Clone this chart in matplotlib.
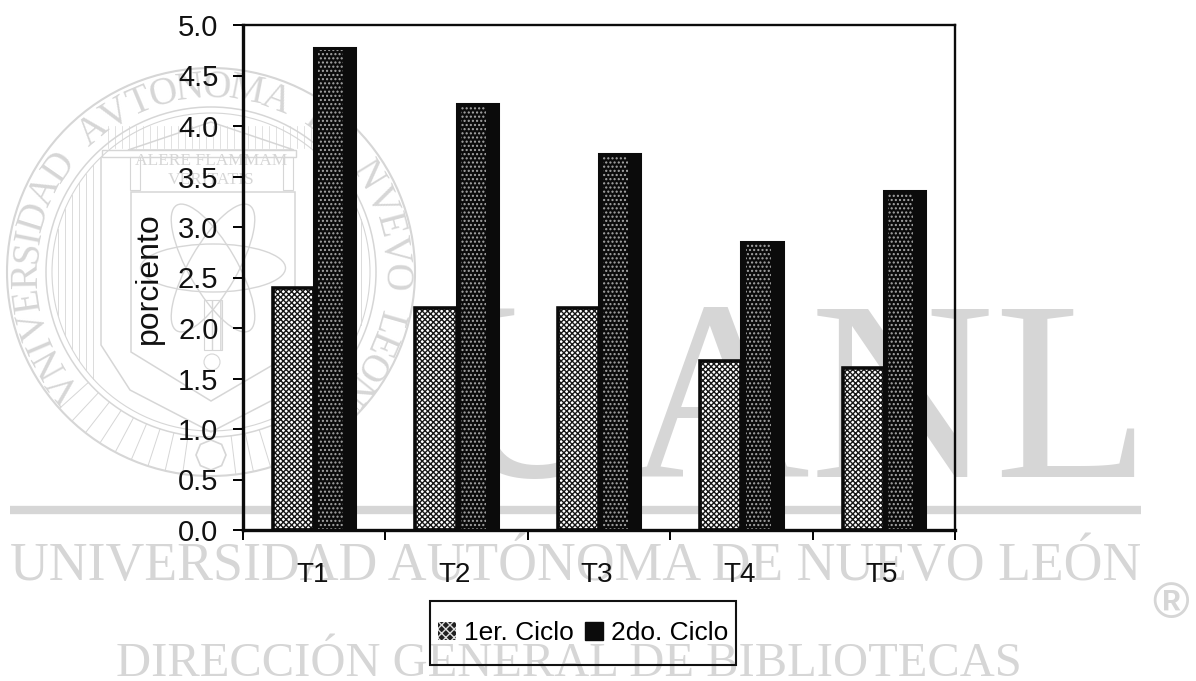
import numpy as np
import matplotlib
matplotlib.use("Agg")
import matplotlib.pyplot as plt
from matplotlib.patches import Circle, Ellipse, Rectangle, Polygon, RegularPolygon
from matplotlib.lines import Line2D
from matplotlib.textpath import TextPath
from matplotlib.font_manager import FontProperties

categories = ["T1", "T2", "T3", "T4", "T5"]
ciclo1 = [2.4, 2.2, 2.2, 1.67, 1.6]
ciclo2 = [4.77, 4.22, 3.72, 2.85, 3.36]
series_names = ["1er. Ciclo", "2do. Ciclo"]
yticks = [0.0, 0.5, 1.0, 1.5, 2.0, 2.5, 3.0, 3.5, 4.0, 4.5, 5.0]
ylabel = "porciento"

W, H = 1196, 681
SANS = "Liberation Sans"
SERIF = "Liberation Serif"
WM = "#d6d6d6"
INK = "#0b0b0b"
plt.rcParams["font.family"] = SANS
plt.rcParams["hatch.linewidth"] = 1.0

fig = plt.figure(figsize=(W / 100, H / 100), dpi=100, facecolor="white")

# ---- watermark, in pixel coordinates
bg = fig.add_axes([0, 0, 1, 1], zorder=0)
bg.set_xlim(0, W)
bg.set_ylim(H, 0)
bg.axis("off")

bg.text(1151, 477, "UANL", family=SERIF, fontsize=184, color=WM, ha="right", va="baseline")
bg.add_line(Line2D([10, 1141], [510, 510], color=WM, lw=6, solid_capstyle="butt"))
bg.text(576, 580, "UNIVERSIDAD AUTÓNOMA DE NUEVO LEÓN", family=SERIF, fontsize=38.7,
        color=WM, ha="center", va="baseline")
bg.text(569, 676, "DIRECCIÓN GENERAL DE BIBLIOTECAS", family=SERIF, fontsize=34.9,
        color=WM, ha="center", va="baseline")
bg.text(1171, 605, "®", family=SANS, weight="bold", fontsize=36, color=WM, ha="center", va="center")

cx, cy = 211, 272
for r, lw in [(204, 1.5), (165, 1.1), (159, 0.8)]:
    bg.add_patch(Circle((cx, cy), r, fill=False, ec=WM, lw=lw))

ring = "VNIVERSIDAD AVTONOMA DE NVEVO LEON"
fp = FontProperties(family=SERIF)
widths = np.array([TextPath((0, 0), ch, size=10, prop=fp).get_extents().width if ch != " " else 5.0
                   for ch in ring]) + 1.0
centers = np.cumsum(widths) - widths / 2
angles = 218 - 257 * (centers - centers[0]) / (centers[-1] - centers[0])
for ch, a in zip(ring, angles):
    t = np.deg2rad(a)
    bg.text(cx + 184 * np.cos(t), cy - 184 * np.sin(t), ch, family=SERIF, fontsize=28,
            color=WM, ha="center", va="center", rotation=a - 90, rotation_mode="anchor")

# radial strokes at the foot of the seal
for a in np.arange(222, 320, 5.0):
    if abs(a - 270) < 5:
        continue
    t = np.deg2rad(a)
    bg.add_line(Line2D([cx + 165 * np.cos(t), cx + 203 * np.cos(t)],
                       [cy - 165 * np.sin(t), cy - 203 * np.sin(t)], color=WM, lw=0.7))
bg.add_patch(RegularPolygon((211, 455), 8, radius=15, fill=False, ec=WM, lw=1.2))

# temple and shield
bg.add_patch(Polygon([[128, 150], [211, 122], [294, 150]], closed=True, fill=False, ec=WM, lw=1.1))
bg.add_patch(Rectangle((102, 150), 194, 7, fill=False, ec=WM, lw=1))
bg.add_patch(Polygon([[131, 192], [131, 352], [211, 401], [295, 352], [295, 192]],
                     closed=True, fill=False, ec=WM, lw=1.1))
bg.add_patch(Polygon([[101, 157], [101, 345], [130, 390], [211, 432], [292, 390], [321, 345], [321, 157]],
                     closed=False, fill=False, ec=WM, lw=1.1))
for x in (135, 288):
    bg.add_patch(Rectangle((x - 5, 157), 10, 33, fill=False, ec=WM, lw=0.8))
for x in list(np.arange(58, 100, 7)) + list(np.arange(326, 366, 7)):
    dy = np.sqrt(159 ** 2 - (x - cx) ** 2)
    bg.add_line(Line2D([x, x], [cy - dy, cy + dy], color=WM, lw=0.6))
for x in np.arange(108, 316, 7):
    bg.add_line(Line2D([x, x], [126, 148], color=WM, lw=0.5))
bg.text(211, 161, "ALERE FLAMMAM", family=SERIF, fontsize=12.5, color=WM, ha="center", va="center")
bg.text(211, 180, "VERITATIS", family=SERIF, fontsize=12.5, color=WM, ha="center", va="center")
for ang in (0, 60, -60):
    bg.add_patch(Ellipse((213, 268), 145, 48, angle=ang, fill=False, ec=WM, lw=1))
bg.add_patch(Rectangle((204, 300), 18, 50, fill=False, ec=WM, hatch="||", lw=0.8))
bg.add_patch(Circle((212, 362), 8, fill=False, ec=WM, lw=0.8))

# ---- chart
ax = fig.add_axes([243 / W, 1 - 530 / H, (955 - 243) / W, (530 - 25) / H], zorder=2)
ax.patch.set_alpha(0)
x = np.arange(len(categories))
bw = 0.29
ax.bar(x - bw / 2, ciclo1, bw, facecolor="white", edgecolor="#161616", hatch="xxxxxx", lw=0)
ax.bar(x + bw / 2, ciclo2, bw, facecolor=INK, lw=0)
ax.bar(x + bw / 2 - 0.028, ciclo2, 0.175, facecolor=INK, edgecolor="#a8a8a8", hatch="....", lw=0)
ax.bar(x - bw / 2, ciclo1, bw, fill=False, edgecolor=INK, lw=2.6)
ax.bar(x + bw / 2, ciclo2, bw, fill=False, edgecolor=INK, lw=2.2)

ax.set_xlim(-0.5, 4.5)
ax.set_ylim(0, 5)
ax.set_yticks(yticks)
ax.set_yticklabels([f"{v:.1f}" for v in yticks], fontsize=21, color="#111111")
ax.set_xticks(np.arange(-0.5, 5.0, 1))
ax.set_xticklabels([])
ax.tick_params(axis="y", length=7.2, width=1.4, direction="out", pad=10.5)
ax.tick_params(axis="x", length=7.2, width=1.4, direction="out")
for xi, c in zip(x, categories):
    ax.annotate(c, (xi, 0), xytext=(-2, -45), textcoords="offset pixels", ha="center",
                va="center", fontsize=20, color="#111111", annotation_clip=False)
for name, s in ax.spines.items():
    s.set_linewidth(2.4 if name in ("left", "bottom") else 1.7)
    s.set_color(INK)
fig.text(149 / W, 1 - 278 / H, ylabel, rotation=90, fontsize=23, color="#111111",
         ha="center", va="center", zorder=3)

handles = [
    Rectangle((0, 0), 1, 1, facecolor="#202020", edgecolor="#dddddd", hatch="xxxx", lw=0),
    Rectangle((0, 0), 1, 1, facecolor=INK, edgecolor=INK, lw=1),
]
leg = fig.legend(handles, series_names, loc="center", bbox_to_anchor=(583 / W, 1 - 633 / H),
                 ncol=2, fontsize=19, frameon=False, handlelength=0.68, handleheight=0.68,
                 handletextpad=0.3, columnspacing=0.45, borderpad=0, borderaxespad=0)
leg.set_zorder(5)
fig.add_artist(Rectangle((430 / W, 1 - 665 / H), 306 / W, 64 / H, transform=fig.transFigure,
                         fill=False, ec="#111111", lw=1.5, zorder=4))
fig.savefig("out.png", dpi=100, facecolor="white")
